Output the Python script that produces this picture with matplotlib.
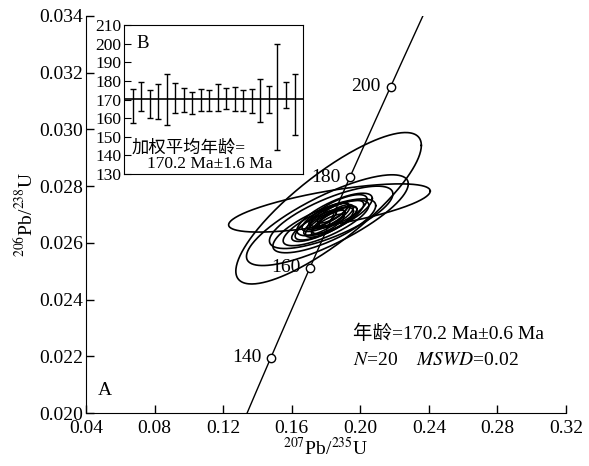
import numpy as np
from matplotlib import pyplot as plt

plt.rcParams['font.family'] = ['Liberation Serif', 'Noto Sans CJK SC']
plt.rcParams['mathtext.fontset'] = 'stix'

# decay constants (1/yr) for the concordia curve
lam238 = 1.55125e-10
lam235 = 9.8485e-10

concordia_ages = [120, 140, 160, 180, 200, 220]   # Ma, range of the drawn curve
marker_ages = [140, 160, 180, 200]

# U-Pb ellipses: centre 207Pb/235U, centre 206Pb/238U, half-range x, half-range y, rho
ell_x = [0.1815, 0.1820, 0.1808, 0.1830, 0.1790, 0.1800, 0.1850, 0.1820, 0.1780, 0.1870,
         0.1830, 0.1800, 0.1850, 0.1790, 0.1820, 0.1860, 0.1810, 0.1840, 0.1775, 0.1830]
ell_y = [0.02722, 0.02723, 0.02680, 0.02690, 0.02660, 0.02670, 0.02700, 0.02680, 0.02665, 0.02710,
         0.02675, 0.02690, 0.02680, 0.02672, 0.02700, 0.02695, 0.02665, 0.02705, 0.02680, 0.02685]
ell_sx = [0.0541, 0.0588, 0.0472, 0.0360, 0.0300, 0.0250, 0.0220, 0.0200, 0.0180, 0.0170,
          0.0150, 0.0140, 0.0130, 0.0120, 0.0110, 0.0100, 0.0095, 0.0090, 0.0085, 0.0080]
ell_sy = [0.00267, 0.00085, 0.00160, 0.00110, 0.00095, 0.00080, 0.00075, 0.00070, 0.00060, 0.00060,
          0.00055, 0.00050, 0.00048, 0.00045, 0.00042, 0.00040, 0.00036, 0.00035, 0.00034, 0.00030]
ell_rho = [0.83, 0.70, 0.80, 0.75, 0.75, 0.78, 0.75, 0.80, 0.78, 0.72,
           0.80, 0.75, 0.78, 0.80, 0.78, 0.75, 0.80, 0.78, 0.80, 0.80]

# weighted mean inset: individual 206Pb/238U ages and errors (Ma)
spot_age = [166.6, 171.7, 167.7, 168.8, 170.0, 170.6, 169.9, 168.1, 170.0, 169.5,
            171.3, 170.5, 170.1, 169.7, 169.3, 169.4, 170.0, 171.5, 172.4, 167.2]
spot_err = [9.0, 7.8, 7.6, 9.4, 13.8, 8.0, 6.4, 5.8, 5.9, 5.8,
            7.2, 5.7, 6.4, 5.6, 6.3, 11.5, 7.0, 28.5, 7.1, 16.4]
mean_age = 170.2

xticks = [0.04, 0.08, 0.12, 0.16, 0.20, 0.24, 0.28, 0.32]
yticks = [0.020, 0.022, 0.024, 0.026, 0.028, 0.030, 0.032, 0.034]
inset_yticks = [130, 140, 150, 160, 170, 180, 190, 200, 210]


def concordia(age_ma):
    t = np.asarray(age_ma, dtype=float) * 1e6
    return np.exp(lam235 * t) - 1, np.exp(lam238 * t) - 1


fig = plt.figure(figsize=(5.89, 4.66), dpi=100)
ax = fig.add_axes([0.146, 0.1137, 0.815, 0.852])

# concordia curve
t_line = np.linspace(concordia_ages[0], concordia_ages[-1], 200)
cx, cy = concordia(t_line)
ax.plot(cx, cy, color='black', linewidth=1.0, zorder=3)
mx, my = concordia(marker_ages)
ax.plot(mx, my, 'o', markersize=6, markerfacecolor='white', markeredgecolor='black',
        markeredgewidth=1.0, zorder=4)
for a, x, y in zip(marker_ages, mx, my):
    ax.annotate(str(a), (x, y), xytext=(-7, 0), textcoords='offset points',
                ha='right', va='center', fontsize=14)

# error ellipses
theta = np.linspace(0, 2 * np.pi, 300)
for x0, y0, sx, sy, r in zip(ell_x, ell_y, ell_sx, ell_sy, ell_rho):
    ex = x0 + sx * np.cos(theta)
    ey = y0 + sy * (r * np.cos(theta) + np.sqrt(1 - r ** 2) * np.sin(theta))
    ax.plot(ex, ey, color='black', linewidth=1.2, zorder=2)

ax.set_xlim(0.04, 0.32)
ax.set_ylim(0.020, 0.034)
ax.set_xticks(xticks)
ax.set_yticks(yticks)
ax.set_xticklabels(['%.2f' % v for v in xticks])
ax.set_yticklabels(['%.3f' % v for v in yticks])
ax.tick_params(direction='in', length=6, width=1, labelsize=14)
ax.tick_params(axis='x', pad=5)
ax.tick_params(axis='y', pad=2)
ax.spines['top'].set_visible(False)
ax.spines['right'].set_visible(False)
ax.set_xlabel(r'$^{207}$Pb/$^{235}$U', fontsize=14, labelpad=0)
ax.set_ylabel(r'$^{206}$Pb/$^{238}$U', fontsize=14, labelpad=2)

ax.text(0.025, 0.045, 'A', transform=ax.transAxes, fontsize=14)
ax.text(0.556, 0.20, '年龄=170.2 Ma±0.6 Ma', transform=ax.transAxes,
        fontsize=14, va='center')
ax.text(0.556, 0.133, r'$N$=20    $MSWD$=0.02', transform=ax.transAxes,
        fontsize=14, va='center')

# inset: weighted mean age
ins = fig.add_axes([0.2105, 0.6266, 0.304, 0.3197])
pos = np.arange(1, len(spot_age) + 1)
ins.errorbar(pos, spot_age, yerr=spot_err, fmt='none', ecolor='black',
             elinewidth=1.0, capsize=2.5, capthick=1.0)
ins.axhline(mean_age, color='black', linewidth=1.2)
ins.set_xlim(0, len(spot_age) + 1)
ins.set_ylim(130, 210)
ins.set_xticks([])
ins.set_yticks(inset_yticks)
ins.tick_params(direction='in', length=5, labelsize=12.5, pad=2)
ins.text(0.07, 0.93, 'B', transform=ins.transAxes, fontsize=13.5, va='top')
ins.text(0.04, 0.17, '加权平均年龄=', transform=ins.transAxes, fontsize=12.5, va='center')
ins.text(0.13, 0.065, '170.2 Ma±1.6 Ma', transform=ins.transAxes, fontsize=12.5, va='center')

fig.savefig('out.png', dpi=100)
